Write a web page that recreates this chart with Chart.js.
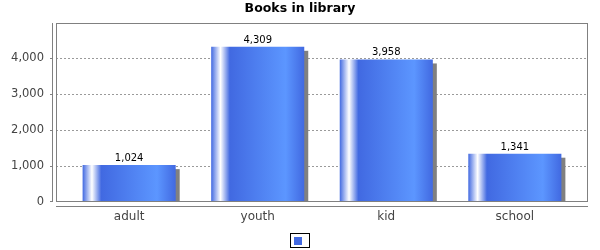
<!DOCTYPE html>
<html><head><meta charset="utf-8">
<script src="https://cdn.jsdelivr.net/npm/chart.js@4.4.1/dist/chart.umd.min.js"></script>
<style>html,body{margin:0;padding:0;background:#fff}</style>
</head><body>
<canvas id="c" width="600" height="250"></canvas>
<script>
const categories = ['adult', 'youth', 'kid', 'school'];
const bookCounts = [1024, 4309, 3958, 1341];
const yTickValues = [0, 1000, 2000, 3000, 4000];
const chartTitle = 'Books in library';
const seriesLabel = '';

const BASE = 'rgb(65,105,225)';
const LIGHT = 'rgb(92,150,255)';
const GRAY = '#808080';
const fmt = v => Number(v).toLocaleString('en-US');
const BAR_PCT = 0.724;

function barGradient(ctx) {
  const chart = ctx.chart;
  const xs = chart.scales.x;
  if (!xs || ctx.parsed == null) return BASE;
  const cx = xs.getPixelForValue(ctx.parsed.x);
  const w = BAR_PCT * Math.abs(xs.getPixelForValue(1) - xs.getPixelForValue(0));
  const l = cx - w / 2;
  if (!isFinite(l) || !isFinite(w) || w <= 0) return BASE;
  const g = chart.ctx.createLinearGradient(l, 0, l + w, 0);
  g.addColorStop(0, BASE);
  g.addColorStop(0.10, '#ffffff');
  g.addColorStop(0.20, BASE);
  g.addColorStop(0.80, LIGHT);
  g.addColorStop(1, BASE);
  return g;
}

const jfree = {
  id: 'jfree',
  beforeDatasetsDraw(chart) {
    const { ctx, chartArea: a, scales: { y } } = chart;
    ctx.save();
    ctx.strokeStyle = '#9a9a9a';
    ctx.lineWidth = 1;
    ctx.setLineDash([2, 2]);
    y.ticks.forEach(t => {
      const py = Math.round(y.getPixelForValue(t.value)) + 0.5;
      if (py > a.bottom) return;
      ctx.beginPath(); ctx.moveTo(a.left, py); ctx.lineTo(a.right, py); ctx.stroke();
    });
    ctx.setLineDash([]);
    ctx.beginPath(); ctx.rect(a.left, a.top, a.right - a.left, a.bottom - a.top); ctx.clip();
    ctx.fillStyle = GRAY;
    chart.getDatasetMeta(0).data.forEach(el => {
      const p = el.getProps(['x', 'y', 'base', 'width'], true);
      ctx.fillRect(p.x - p.width / 2 + 4, p.y + 4, p.width, p.base - p.y);
    });
    ctx.restore();
  },
  afterDatasetsDraw(chart) {
    const { ctx, chartArea: a, scales: { y } } = chart;
    ctx.save();
    ctx.fillStyle = '#000';
    ctx.font = '10px "DejaVu Sans"';
    ctx.textAlign = 'center';
    ctx.textBaseline = 'alphabetic';
    const ds = chart.data.datasets[0];
    chart.getDatasetMeta(0).data.forEach((el, i) => {
      const p = el.getProps(['x', 'y'], true);
      ctx.fillText(fmt(ds.data[i].y), p.x, p.y - 4);
    });
    ctx.strokeStyle = GRAY;
    ctx.lineWidth = 1;
    ctx.strokeRect(a.left + 0.5, a.top + 0.5, a.right - a.left - 1, a.bottom - a.top - 1);
    ctx.beginPath();
    ctx.moveTo(a.left - 3.5, a.top); ctx.lineTo(a.left - 3.5, a.bottom);
    y.ticks.forEach(t => {
      const py = Math.min(Math.round(y.getPixelForValue(t.value)) + 0.5, a.bottom - 0.5);
      ctx.moveTo(a.left - 6, py); ctx.lineTo(a.left - 4, py);
    });
    ctx.moveTo(a.left, a.bottom + 4.5); ctx.lineTo(a.right, a.bottom + 4.5);
    ctx.stroke();
    ctx.restore();
  },
  afterDraw(chart) {
    const { ctx } = chart;
    ctx.save();
    ctx.strokeStyle = '#000';
    ctx.lineWidth = 1;
    ctx.strokeRect(290.5, 233.5, 19, 14);
    ctx.fillStyle = BASE;
    ctx.fillRect(294, 237, 8, 8);
    ctx.restore();
  }
};

new Chart(document.getElementById('c'), {
  type: 'bar',
  data: {
    datasets: [{
      label: seriesLabel,
      data: categories.map((c, i) => ({ x: i, y: bookCounts[i] })),
      backgroundColor: barGradient,
      borderWidth: 0,
      barPercentage: BAR_PCT,
      categoryPercentage: 1
    }]
  },
  plugins: [jfree],
  options: {
    responsive: false,
    animation: false,
    devicePixelRatio: 1,
    layout: { padding: 0 },
    plugins: {
      legend: { display: false },
      tooltip: { enabled: false },
      title: {
        display: true,
        text: chartTitle,
        color: '#000',
        font: { family: 'DejaVu Sans', size: 12.5, weight: 'bold' },
        padding: { top: 1, bottom: 7 }
      }
    },
    scales: {
      x: {
        type: 'linear',
        offset: false,
        bounds: 'data',
        min: -0.569,
        max: 3.569,
        afterBuildTicks: s => { s.ticks = categories.map((c, i) => ({ value: i })); },
        afterFit: s => { s.height = 48; },
        grid: { display: false, drawTicks: false, offset: false },
        border: { display: false },
        ticks: {
          autoSkip: false, maxRotation: 0, padding: 8,
          color: '#444',
          font: { family: 'DejaVu Sans', size: 12 },
          callback: v => categories[v]
        }
      },
      y: {
        bounds: 'data',
        min: 0,
        max: 4970,
        afterBuildTicks: s => { s.ticks = yTickValues.map(v => ({ value: v })); },
        afterFit: s => { s.width = 56; },
        grid: { display: false, drawTicks: false },
        border: { display: false },
        ticks: {
          padding: 12,
          color: '#444',
          font: { family: 'DejaVu Sans', size: 11.5 },
          callback: v => fmt(v)
        }
      },
      yRight: {
        position: 'right',
        display: true,
        afterFit: s => { s.width = 12; },
        grid: { display: false, drawTicks: false },
        border: { display: false },
        ticks: { display: false }
      }
    }
  }
});
</script>
</body></html>
